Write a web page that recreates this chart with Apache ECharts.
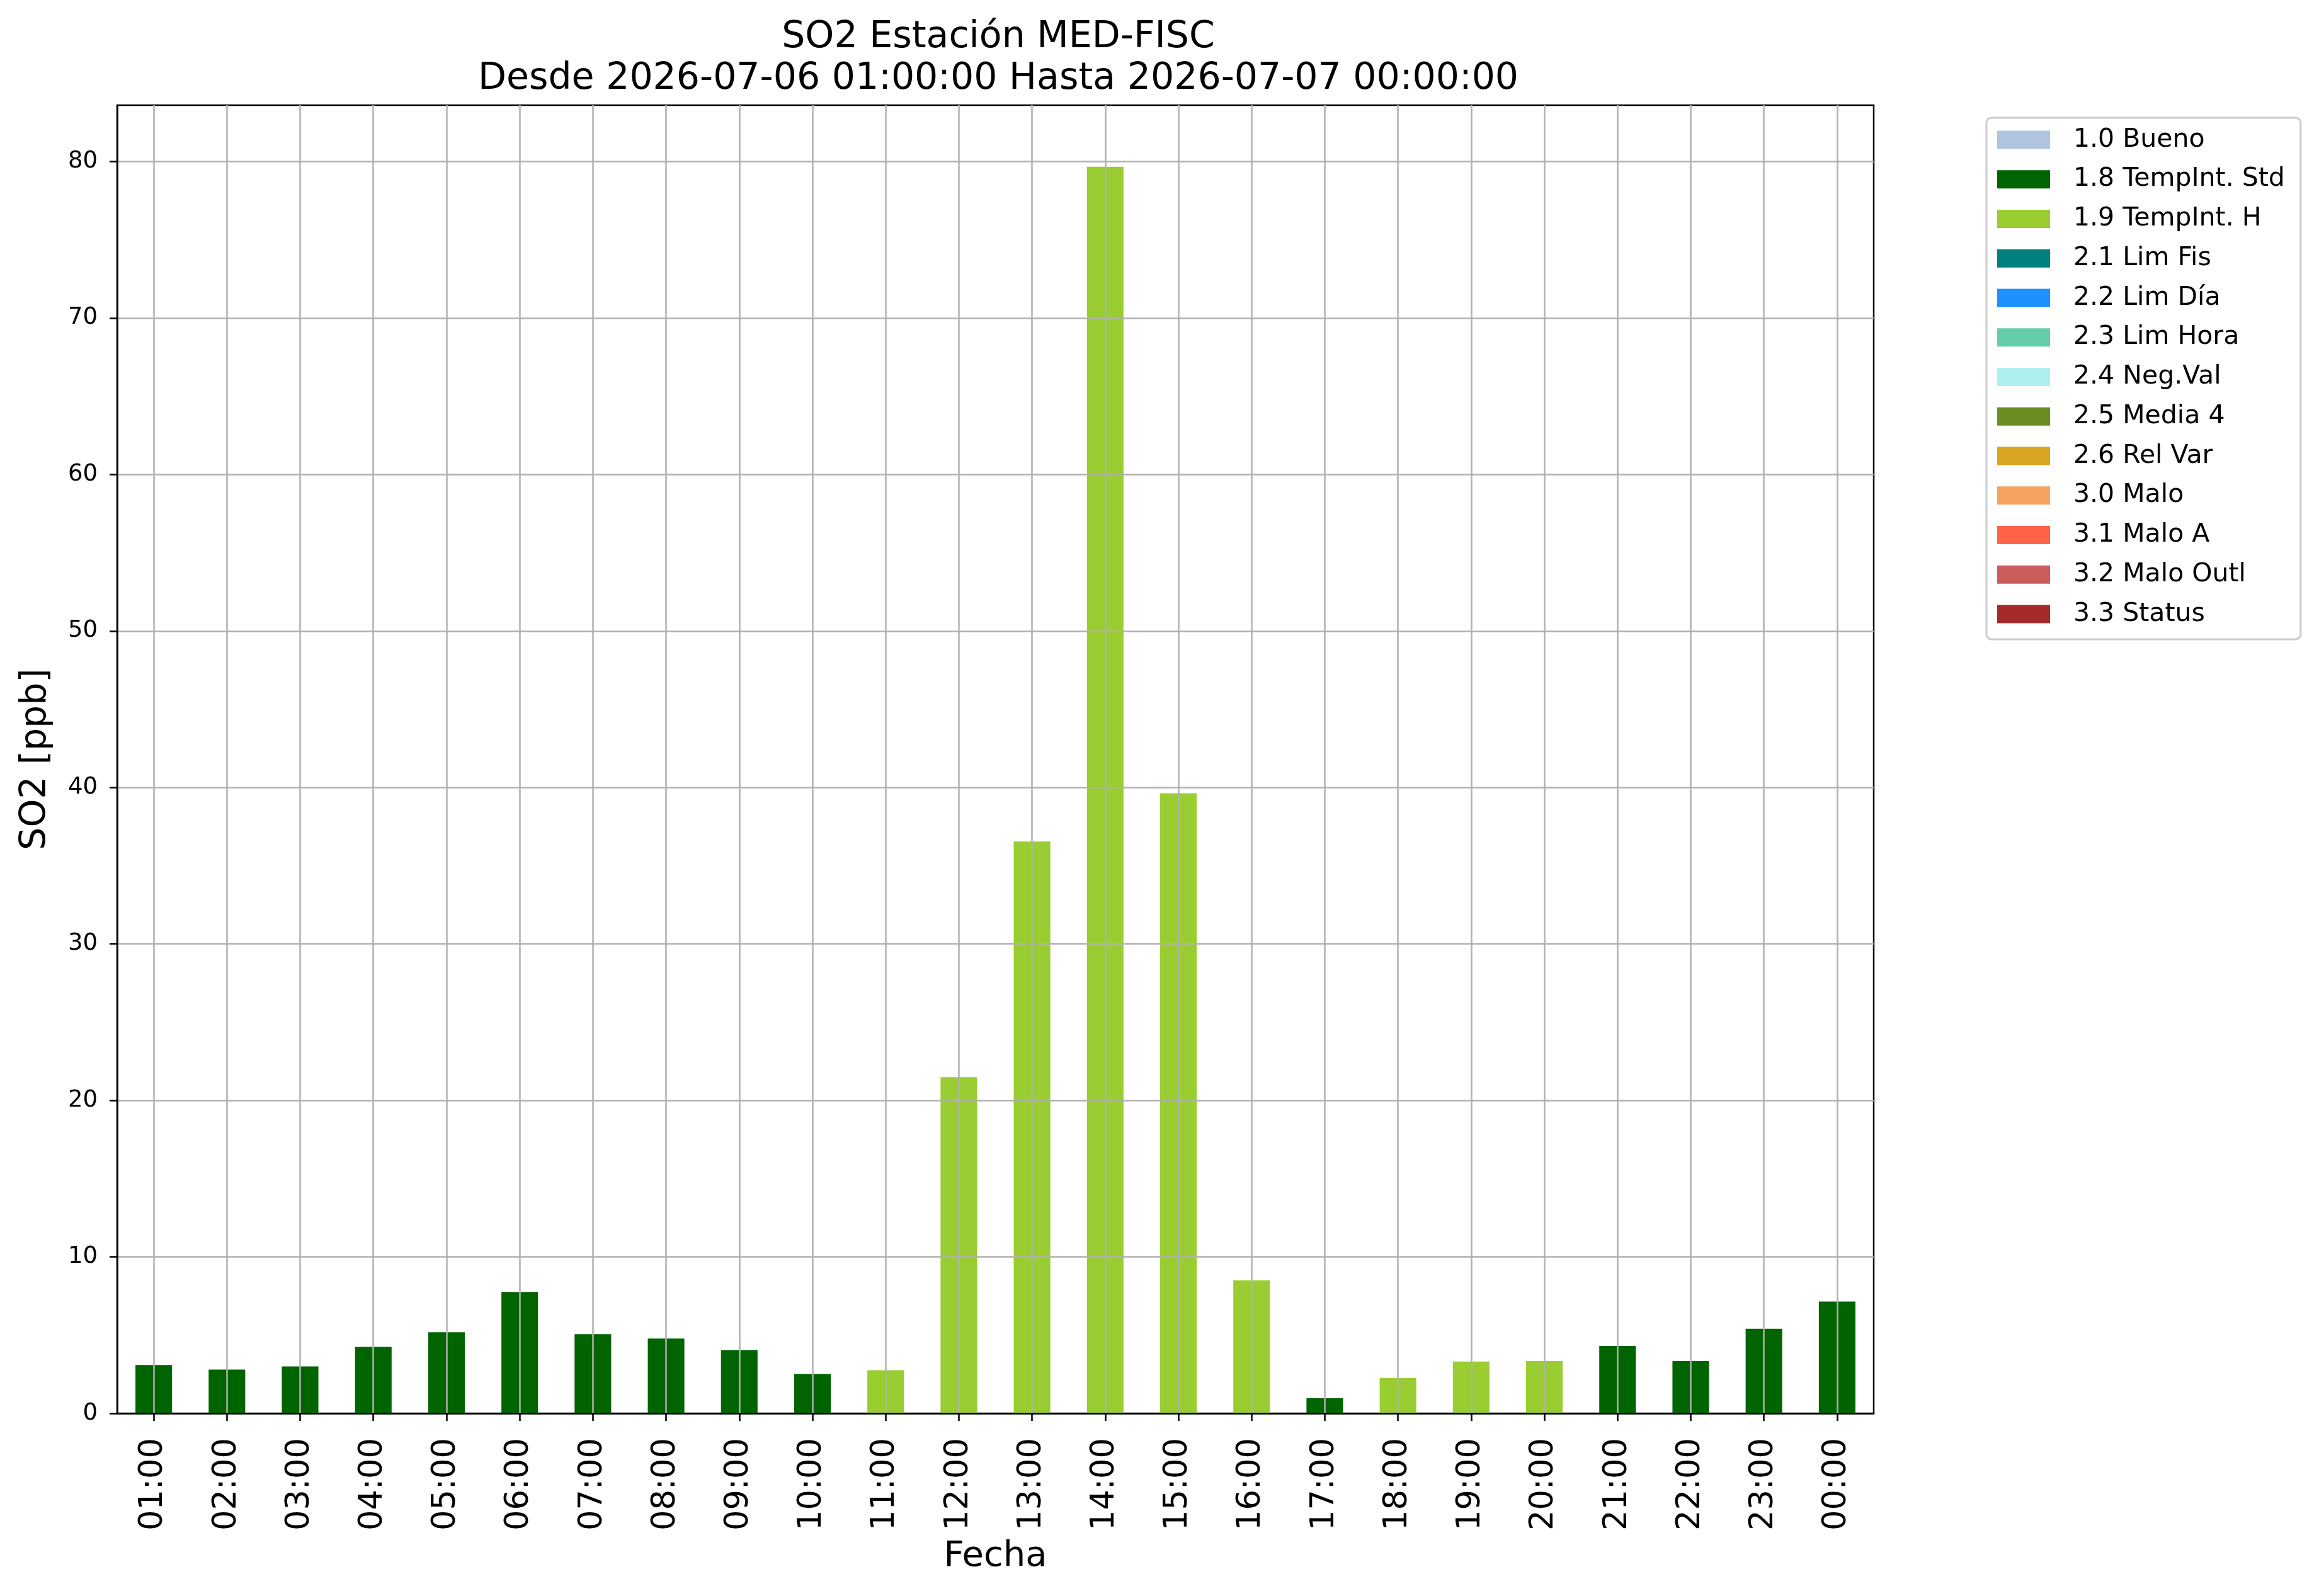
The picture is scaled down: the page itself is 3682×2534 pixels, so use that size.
<!DOCTYPE html>
<html>
<head>
<meta charset="utf-8">
<script src="https://cdn.jsdelivr.net/npm/echarts@6/dist/echarts.min.js"></script>
<style>
html,body{margin:0;padding:0;background:#fff;}
#chart{width:3682px;height:2534px;}
</style>
</head>
<body>
<div id="chart"></div>
<script>
const hours = ['01:00','02:00','03:00','04:00','05:00','06:00','07:00','08:00','09:00','10:00','11:00','12:00',
  '13:00','14:00','15:00','16:00','17:00','18:00','19:00','20:00','21:00','22:00','23:00','00:00'];
const so2Values = [3.09, 2.80, 3.00, 4.25, 5.18, 7.76, 5.06, 4.78, 4.05, 2.52, 2.76, 21.48,
  36.55, 79.67, 39.63, 8.50, 0.97, 2.26, 3.31, 3.34, 4.31, 3.34, 5.40, 7.14];
const flags = ['1.8','1.8','1.8','1.8','1.8','1.8','1.8','1.8','1.8','1.8','1.9','1.9',
  '1.9','1.9','1.9','1.9','1.8','1.9','1.9','1.9','1.8','1.8','1.8','1.8'];
const flagCodes = ['1.0','1.8','1.9','2.1','2.2','2.3','2.4','2.5','2.6','3.0','3.1','3.2','3.3'];
const flagNames = ['1.0 Bueno','1.8 TempInt. Std','1.9 TempInt. H','2.1 Lim Fis','2.2 Lim Día','2.3 Lim Hora',
  '2.4 Neg.Val','2.5 Media 4','2.6 Rel Var','3.0 Malo','3.1 Malo A','3.2 Malo Outl','3.3 Status'];
const flagColors = ['#b0c4de','#006400','#9acd32','#008080','#1e90ff','#66cdaa','#afeeee','#6b8e23',
  '#daa520','#f4a460','#ff6347','#cd5c5c','#a52a2a'];
const yTicks = [0,10,20,30,40,50,60,70,80];

const FONT = 'DejaVu Sans';
const series = flagCodes.map((code, k) => ({
  name: flagNames[k],
  type: 'bar',
  stack: 'all',
  barWidth: '50%',
  itemStyle: { color: flagColors[k] },
  data: so2Values.map((v, i) => flags[i] === code ? v : '-')
}));

const chart = echarts.init(document.getElementById('chart'), null, { renderer: 'canvas' });
chart.setOption({
  animation: false,
  backgroundColor: '#ffffff',
  textStyle: { fontFamily: FONT },
  title: {
    text: 'SO2 Estación MED-FISC\nDesde 2026-07-06 01:00:00 Hasta 2026-07-07 00:00:00',
    left: 1580, top: 22, textAlign: 'center',
    textStyle: { fontFamily: FONT, fontSize: 58.5, fontWeight: 'normal', color: '#000', lineHeight: 66 }
  },
  legend: {
    orient: 'vertical', left: 3154, top: 187,
    padding: [14.5, 25, 19.5, 17],
    borderColor: '#cccccc', borderWidth: 3, borderRadius: 8,
    backgroundColor: '#ffffff',
    itemWidth: 84, itemHeight: 29, itemGap: 21.75,
    icon: 'rect', selectedMode: false,
    data: flagNames,
    textStyle: { fontFamily: FONT, fontSize: 41, color: '#000', padding: [0, 0, 0, 32] }
  },
  grid: {
    left: 186, right: 707, top: 167, bottom: 290,
    show: true, borderColor: '#000', borderWidth: 2.5, backgroundColor: 'transparent'
  },
  xAxis: {
    type: 'category', data: hours, z: 5,
    name: 'Fecha', nameLocation: 'middle', nameGap: 199,
    nameTextStyle: { fontFamily: FONT, fontSize: 56, color: '#000' },
    axisLine: { show: true, lineStyle: { color: '#000', width: 2.5 } },
    axisTick: { show: true, alignWithLabel: true, length: 12, lineStyle: { color: '#000', width: 2.5 } },
    axisLabel: { rotate: 90, fontFamily: FONT, fontSize: 51, color: '#000', margin: 39, interval: 0 },
    splitLine: { show: true, alignWithLabel: true, lineStyle: { color: '#b0b0b0', width: 2.5 } }
  },
  yAxis: {
    type: 'value', min: 0, max: 83.6, interval: 10, z: 5,
    name: 'SO2 [ppb]', nameLocation: 'middle', nameGap: 100,
    nameTextStyle: { fontFamily: FONT, fontSize: 57, color: '#000' },
    axisLine: { show: true, lineStyle: { color: '#000', width: 2.5 } },
    axisTick: { show: true, length: 12, lineStyle: { color: '#000', width: 2.5 }, customValues: yTicks },
    axisLabel: { fontFamily: FONT, fontSize: 37, color: '#000', margin: 31, customValues: yTicks },
    splitLine: { show: true, lineStyle: { color: '#b0b0b0', width: 2.5 } }
  },
  series: series
});
</script>
</body>
</html>
